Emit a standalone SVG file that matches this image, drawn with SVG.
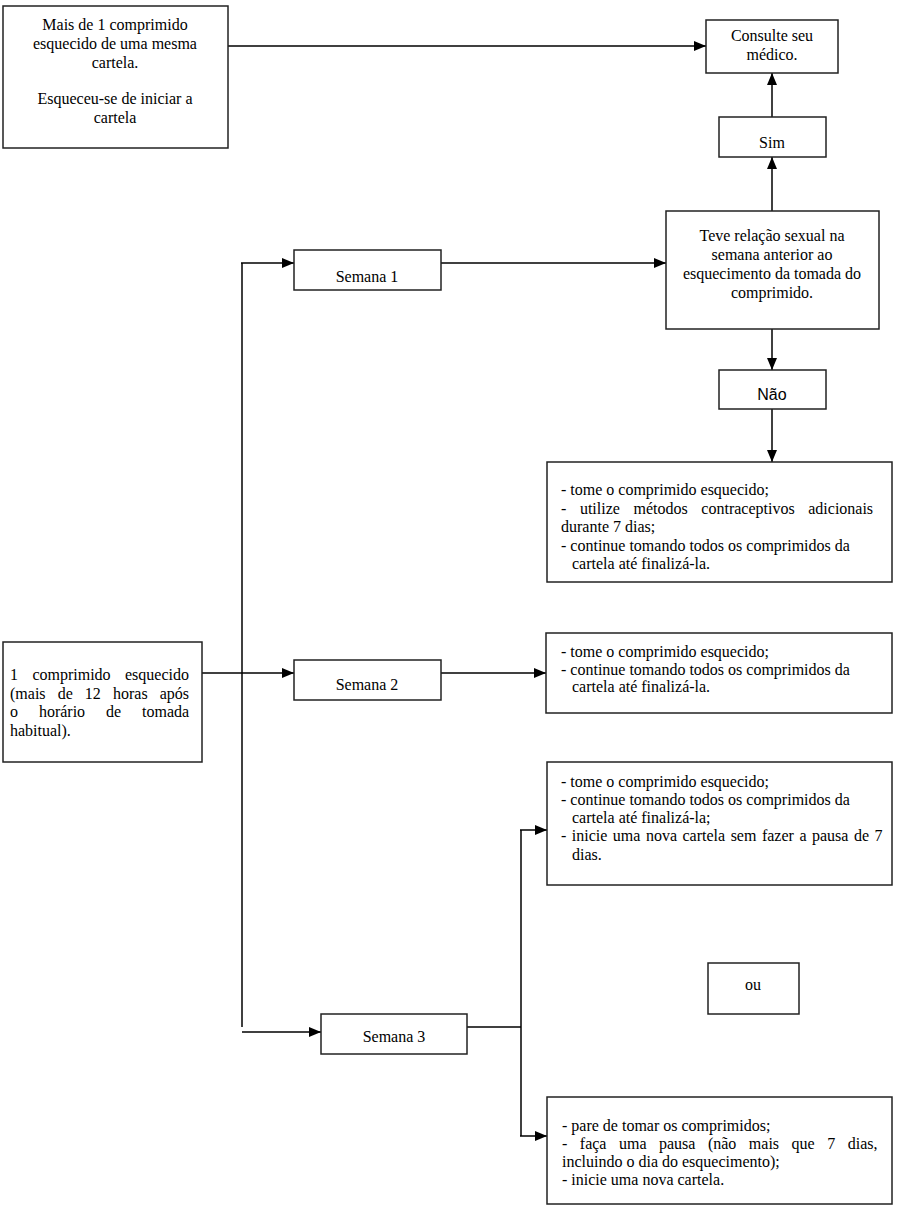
<svg xmlns="http://www.w3.org/2000/svg" width="898" height="1218" viewBox="0 0 898 1218">
<defs>
<marker id="ah" markerWidth="12" markerHeight="10" refX="12" refY="5" orient="auto" markerUnits="userSpaceOnUse">
<path d="M0,0 L12,5 L0,10 Z" fill="#000"/>
</marker>
<style>
.box{fill:#fff;stroke:#222;stroke-width:1.5}
.t{font-family:"Liberation Serif","Times New Roman",serif;font-size:16px;fill:#000}
.c{text-anchor:middle}
.s{font-family:"Liberation Sans",Arial,sans-serif;font-size:16px;fill:#000}
.ln{fill:none;stroke:#000;stroke-width:1.5}
.ar{fill:none;stroke:#000;stroke-width:1.5;marker-end:url(#ah)}
</style>
</defs>
<rect width="898" height="1218" fill="#fff"/>

<g id="connectors">
<line class="ar" x1="228" y1="46" x2="706" y2="46"/>
<line class="ar" x1="772" y1="117" x2="772" y2="73"/>
<line class="ar" x1="772" y1="211" x2="772" y2="157"/>
<line class="ar" x1="772" y1="329" x2="772" y2="370"/>
<line class="ar" x1="772" y1="409" x2="772" y2="462"/>
<line class="ar" x1="441" y1="263" x2="666" y2="263"/>
<line class="ar" x1="202" y1="673" x2="294" y2="673"/>
<line class="ln" x1="242" y1="263" x2="242" y2="1027"/>
<line class="ar" x1="241" y1="263" x2="294" y2="263"/>
<line class="ar" x1="242" y1="1032" x2="321" y2="1032"/>
<line class="ar" x1="441" y1="673" x2="546" y2="673"/>
<line class="ln" x1="467" y1="1027" x2="521" y2="1027"/>
<line class="ln" x1="521" y1="830" x2="521" y2="1136"/>
<line class="ar" x1="520" y1="830" x2="547" y2="830"/>
<line class="ar" x1="520" y1="1136" x2="547" y2="1136"/>
</g>

<g id="mais">
<rect class="box" x="3" y="6" width="225" height="142"/>
<text class="t c" x="115" y="30">Mais de 1 comprimido</text>
<text class="t c" x="115" y="49">esquecido de uma mesma</text>
<text class="t c" x="115" y="68">cartela.</text>
<text class="t c" x="115" y="104">Esqueceu-se de iniciar a</text>
<text class="t c" x="115" y="123">cartela</text>
</g>

<g id="consulte">
<rect class="box" x="706" y="20" width="132" height="53"/>
<text class="t c" x="772" y="41">Consulte seu</text>
<text class="t c" x="772" y="60">médico.</text>
</g>

<g id="sim">
<rect class="box" x="719" y="117" width="107" height="40"/>
<text class="t c" x="772" y="148">Sim</text>
</g>

<g id="teve">
<rect class="box" x="666" y="211" width="213" height="118"/>
<text class="t c" x="772" y="241">Teve relação sexual na</text>
<text class="t c" x="772" y="260">semana anterior ao</text>
<text class="t c" x="772" y="279">esquecimento da tomada do</text>
<text class="t c" x="772" y="298">comprimido.</text>
</g>

<g id="nao">
<rect class="box" x="719" y="370" width="107" height="39"/>
<text class="s c" x="772" y="400">Não</text>
</g>

<g id="semana1">
<rect class="box" x="294" y="250" width="147" height="40"/>
<text class="t c" x="367" y="282">Semana 1</text>
</g>

<g id="acao1">
<rect class="box" x="547" y="462" width="345" height="120"/>
<text class="t" x="561" y="495">- tome o comprimido esquecido;</text>
<text class="t" x="561" y="514" word-spacing="9.6">- utilize métodos contraceptivos adicionais</text>
<text class="t" x="561" y="532">durante 7 dias;</text>
<text class="t" x="561" y="551">- continue tomando todos os comprimidos da</text>
<text class="t" x="572" y="569">cartela até finalizá-la.</text>
</g>

<g id="um-comprimido">
<rect class="box" x="3" y="642" width="199" height="120"/>
<text class="t" x="10" y="680" word-spacing="10.4">1 comprimido esquecido</text>
<text class="t" x="10" y="699" word-spacing="8.1">(mais de 12 horas após</text>
<text class="t" x="10" y="717" word-spacing="16.9">o horário de tomada</text>
<text class="t" x="10" y="736">habitual).</text>
</g>

<g id="semana2">
<rect class="box" x="294" y="660" width="147" height="40"/>
<text class="t c" x="367" y="690">Semana 2</text>
</g>

<g id="acao2">
<rect class="box" x="546" y="633" width="346" height="80"/>
<text class="t" x="561" y="657">- tome o comprimido esquecido;</text>
<text class="t" x="561" y="675">- continue tomando todos os comprimidos da</text>
<text class="t" x="572" y="692">cartela até finalizá-la.</text>
</g>

<g id="acao3">
<rect class="box" x="547" y="762" width="345" height="123"/>
<text class="t" x="561" y="787">- tome o comprimido esquecido;</text>
<text class="t" x="561" y="805">- continue tomando todos os comprimidos da</text>
<text class="t" x="572" y="823">cartela até finalizá-la;</text>
<text class="t" x="561" y="841" word-spacing="1.5">- inicie uma nova cartela sem fazer a pausa de 7</text>
<text class="t" x="572" y="860">dias.</text>
</g>

<g id="ou">
<rect class="box" x="708" y="963" width="91" height="51"/>
<text class="t c" x="753" y="990">ou</text>
</g>

<g id="semana3">
<rect class="box" x="321" y="1014" width="146" height="40"/>
<text class="t c" x="394" y="1042">Semana 3</text>
</g>

<g id="acao4">
<rect class="box" x="547" y="1097" width="345" height="107"/>
<text class="t" x="562" y="1131">- pare de tomar os comprimidos;</text>
<text class="t" x="562" y="1149" word-spacing="8.5">- faça uma pausa (não mais que 7 dias,</text>
<text class="t" x="562" y="1167">incluindo o dia do esquecimento);</text>
<text class="t" x="562" y="1185">- inicie uma nova cartela.</text>
</g>
</svg>
